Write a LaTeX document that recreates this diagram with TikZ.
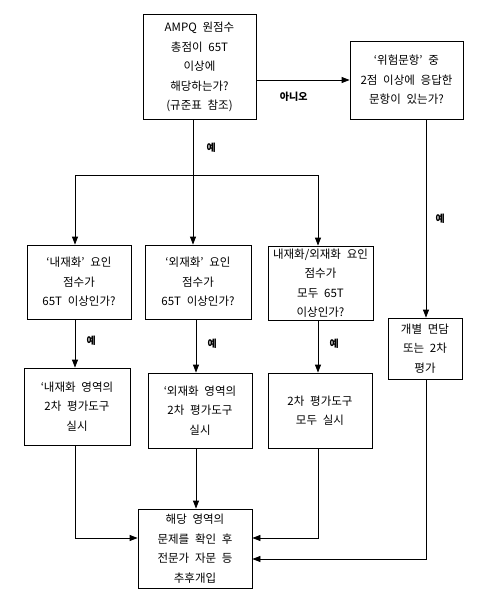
\documentclass[tikz,border=0pt]{standalone}
\usepackage{fontspec}
\setmainfont{Noto Sans CJK KR}
\usepackage{tikz}
\usetikzlibrary{arrows.meta}
\newcommand\widespace{\spaceskip 0.5em\relax}

\begin{document}
\begin{tikzpicture}[x=1pt, y=1pt, line width=0.8pt,
        box/.style={draw, align=center, inner sep=0pt, font={\fontsize{11.5}{19.5}\selectfont\widespace}},
        arr/.style={-{Triangle[length=8pt, width=6pt]}},
        yes/.style={font=\fontsize{10}{12}\selectfont\bfseries}]
    \useasboundingbox (0,0) rectangle (499,-600);

        \node[box, minimum width=113, minimum height=105] (total) at (199.5, -67) {AMPQ 원점수\\총점이 65T\\이상에\\해당하는가?\\(규준표 참조)};
        \node[box, minimum width=113, minimum height=78] (risk) at (406.5, -80) {‘위험문항’ 중\\2점 이상에 응답한\\문항이 있는가?};
        \node[box, minimum width=104, minimum height=74] (inner) at (79, -282) {‘내재화’ 요인\\점수가\\65T 이상인가?};
        \node[box, minimum width=106, minimum height=74] (outer) at (198, -282) {‘외재화’ 요인\\점수가\\65T 이상인가?};
        \node[box, minimum width=105, minimum height=74] (both) at (320.5, -283) {내재화/외재화 요인\\점수가\\모두 65T\\이상인가?};
        \node[box, minimum width=74, minimum height=61] (talk) at (425, -348.5) {개별 면담\\또는 2차\\평가};
        \node[box, minimum width=106, minimum height=77] (innertool) at (77, -406.5) {‘내재화 영역의\\2차 평가도구\\실시};
        \node[box, minimum width=104, minimum height=75] (outertool) at (200, -410.5) {‘외재화 영역의\\2차 평가도구\\실시};
        \node[box, minimum width=104, minimum height=75] (bothtool) at (320, -410.5) {2차 평가도구\\모두 실시};
        \node[box, minimum width=114, minimum height=79] (follow) at (195, -548.5) {해당 영역의\\문제를 확인 후\\전문가 자문 등\\추후개입};

        \coordinate (split) at (193, -175);
        \coordinate (splitL) at (75, -175);
        \coordinate (splitR) at (318, -175);
        \coordinate (joinL) at (75, -538);
        \coordinate (joinR) at (318, -538);
        \coordinate (joinD) at (426, -559);

        \draw[arr] (total.east |- 0,-80) -- (risk.west |- 0,-80) node[yes, pos=0.4, below=8pt] {아니오};
        \draw (total.south -| split) -- (split) node[yes, pos=0.5, right=10pt] {예};
        \draw (splitL) -- (splitR);
        \draw[arr] (splitL) -- (splitL |- inner.north);
        \draw[arr] (split) -- (split |- outer.north);
        \draw[arr] (splitR) -- (splitR |- both.north);
        \draw[arr] (risk.south -| joinD) -- (joinD |- talk.north) node[yes, pos=0.5, right=6pt] {예};

        \draw[arr] (inner.south -| joinL) -- (joinL |- innertool.north) node[yes, pos=0.45, right=8pt] {예};
        \draw[arr] (outer.south -| 196,0) -- (196,0 |- outertool.north) node[yes, pos=0.45, right=8pt] {예};
        \draw[arr] (both.south -| joinR) -- (joinR |- bothtool.north) node[yes, pos=0.45, right=8pt] {예};

        \draw[arr] (innertool.south -| joinL) -- (joinL) -- (joinL -| follow.west);
        \draw[arr] (outertool.south -| 196,0) -- (196,0 |- follow.north);
        \draw[arr] (bothtool.south -| joinR) -- (joinR) -- (joinR -| follow.east);
        \draw[arr] (talk.south -| joinD) -- (joinD) -- (joinD -| follow.east);
    \end{tikzpicture}
\end{document}
